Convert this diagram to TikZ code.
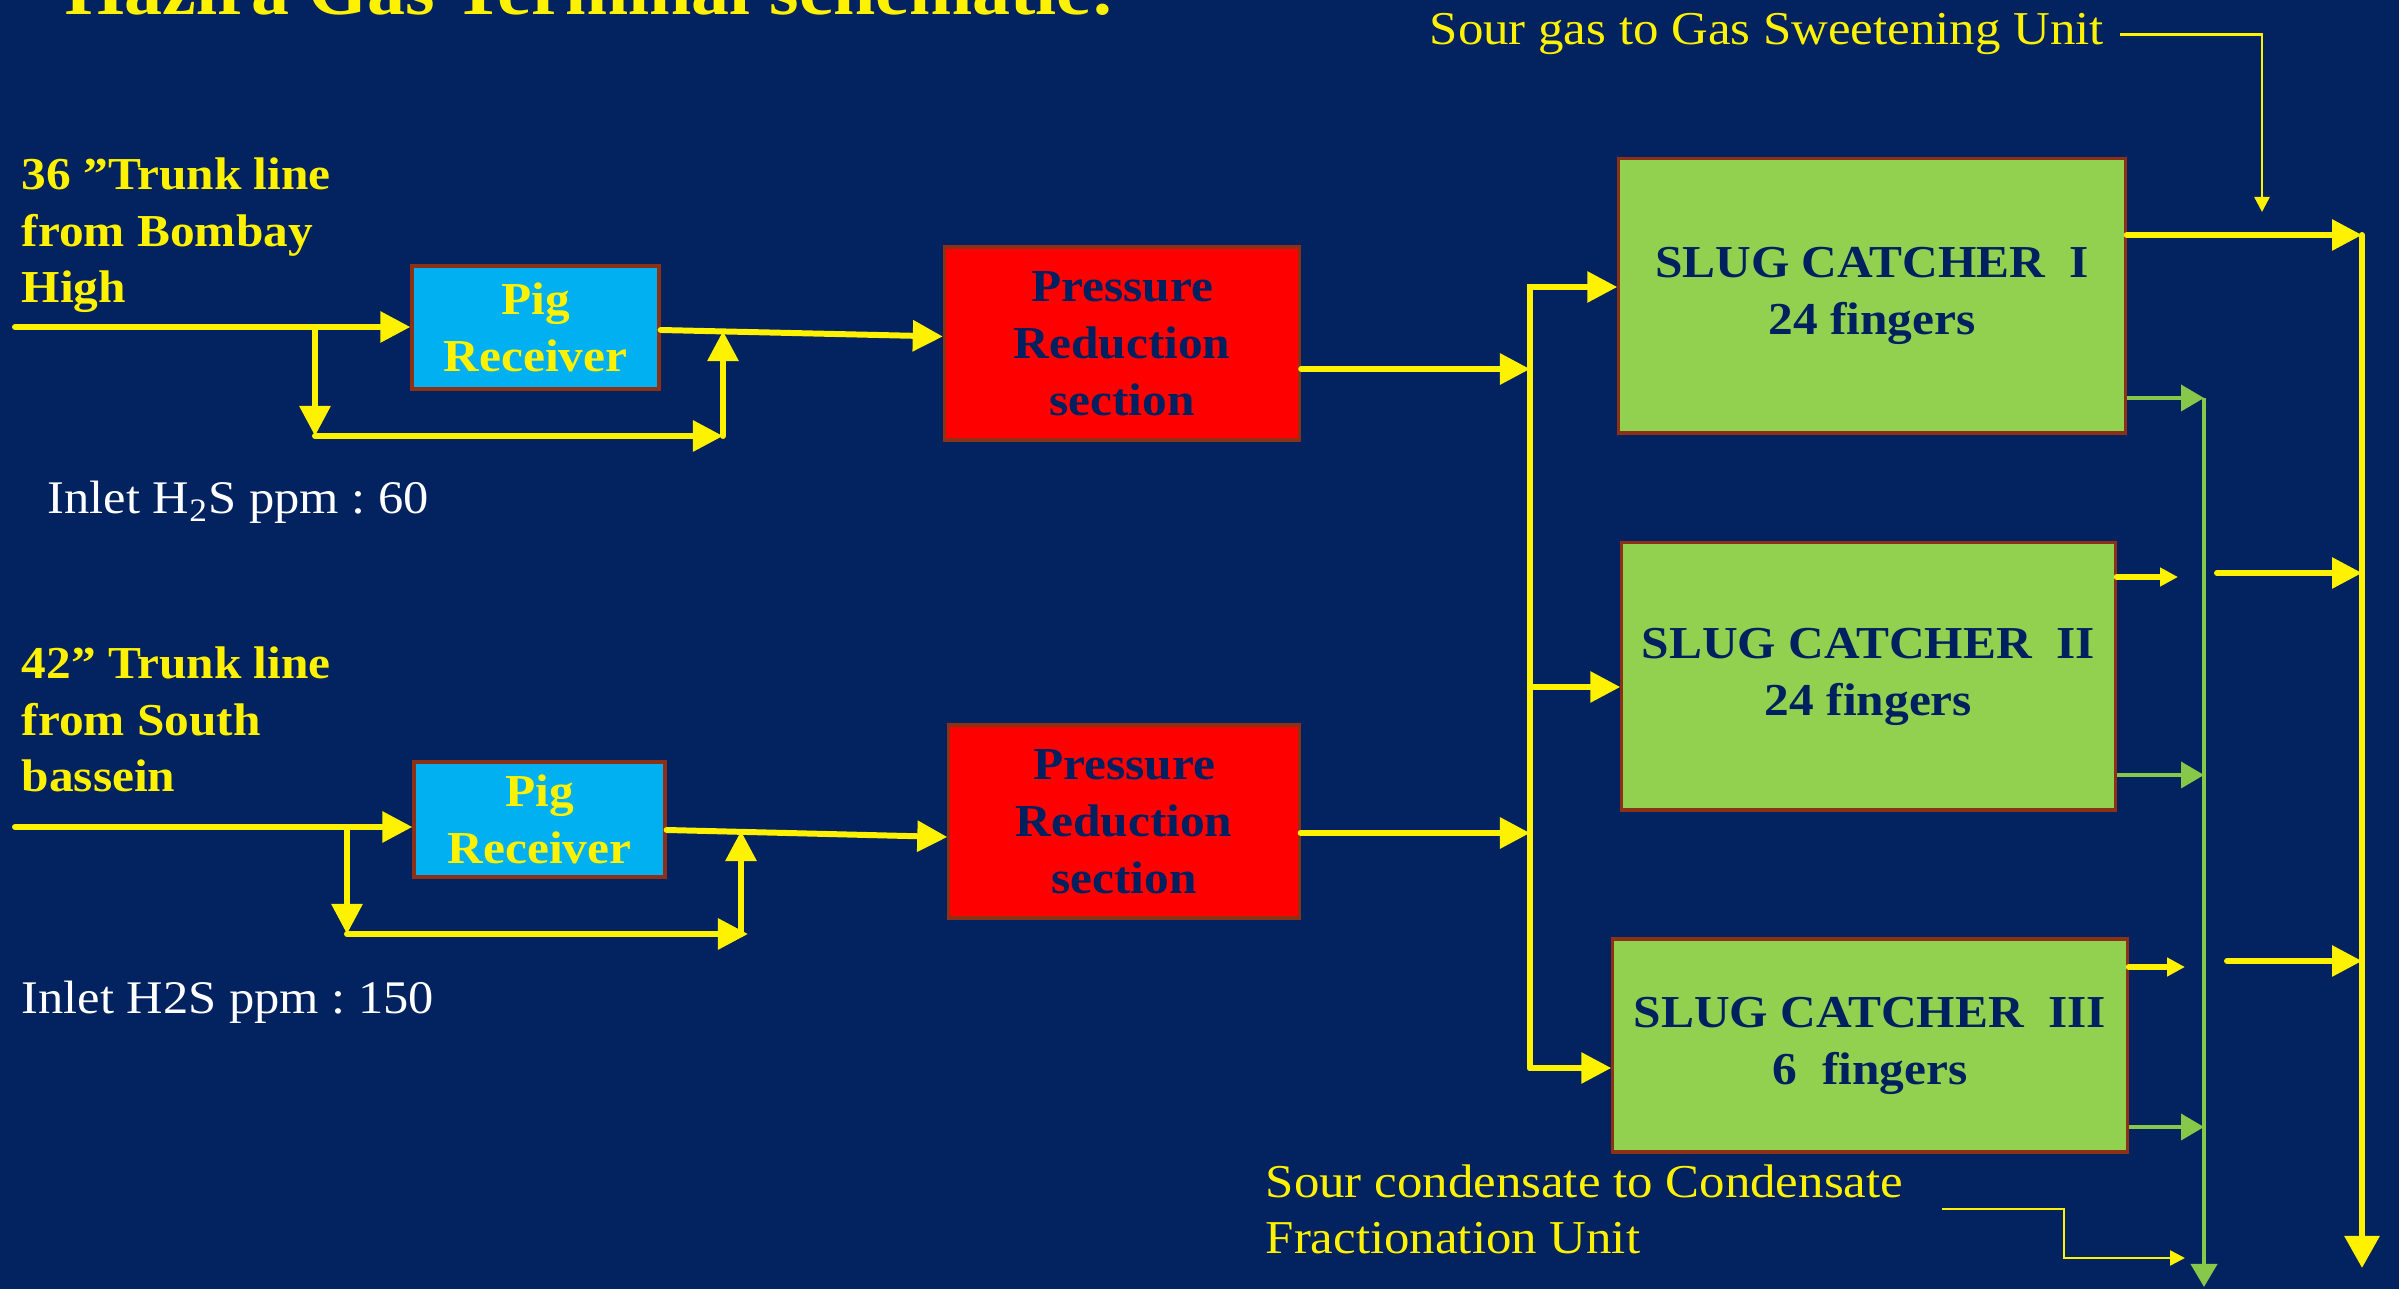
\documentclass[tikz,border=0pt]{standalone}
\usepackage{fontspec}
\setmainfont{Liberation Serif}[FakeStretch=1.08]
\usetikzlibrary{arrows.meta}
\definecolor{slidebg}{RGB}{2,34,96}
\definecolor{navytext}{RGB}{0,32,96}
\definecolor{pigblue}{RGB}{0,176,240}
\definecolor{boxedge}{RGB}{140,48,22}
\definecolor{sluggreen}{RGB}{146,208,80}
\definecolor{condgreen}{RGB}{135,200,75}
\frenchspacing

\begin{document}
\begin{tikzpicture}[x=0.01cm,y=-0.01cm,
  unitbox/.style={draw=boxedge,line width=0.9pt,inner sep=0pt,align=center,font=\fontsize{13}{16.2}\selectfont\bfseries},
  pigbox/.style={unitbox,fill=pigblue,text=yellow},
  prsbox/.style={unitbox,fill=red,text=navytext,minimum height=1.93cm},
  slugbox/.style={unitbox,fill=sluggreen,text=navytext},
  trunklabel/.style={anchor=base west,inner sep=0pt,align=left,text=yellow,font=\fontsize{13}{16.2}\selectfont\bfseries},
  ppmlabel/.style={anchor=base west,inner sep=0pt,text=white,font=\fontsize{13.3}{16.2}\selectfont},
  destlabel/.style={anchor=base west,inner sep=0pt,align=left,text=yellow,font=\fontsize{13.4}{16.2}\selectfont},
  pipe/.style={yellow,line width=1.7pt,line cap=round,-{Triangle[length=0.3cm,width=0.3cm]}},
  smallpipe/.style={pipe,-{Triangle[length=0.18cm,width=0.18cm]}},
  gaspipe/.style={pipe,-{Triangle[length=0.32cm,width=0.34cm]}},
  condpipe/.style={condgreen,line width=1.1pt,-{Triangle[length=0.23cm,width=0.26cm]}},
  pointer/.style={yellow,line width=0.7pt,-{Triangle[length=0.15cm,width=0.15cm]}}]
\useasboundingbox (0,0) rectangle (2399,1289);
\clip (0,0) rectangle (2399,1289);
\fill[slidebg] (0,0) rectangle (2399,1289);
\node[anchor=base west,inner sep=0pt,text=yellow,font=\fontsize{20}{24}\selectfont\bfseries] (title) at (65,15) {Hazira Gas Terminal schematic:};

% inlet texts (base = last line)
\node[trunklabel] (trunkA) at (21,303) {36 ”Trunk line\\from Bombay\\High};
\node[ppmlabel] (ppmA) at (47,514) {Inlet H\textsubscript{2}S ppm : 60};
\node[trunklabel] (trunkB) at (21,792) {42” Trunk line\\from South\\bassein};
\node[ppmlabel] (ppmB) at (21,1014) {Inlet H2S ppm : 150};

% units
\node[pigbox,minimum width=2.47cm,minimum height=1.23cm] (pigA) at (535.5,327.5) {Pig\\Receiver};
\node[pigbox,minimum width=2.51cm,minimum height=1.15cm] (pigB) at (539.5,819.5) {Pig\\Receiver};
\node[prsbox,minimum width=3.55cm] (prsA) at (1122,343.5) {Pressure\\Reduction\\section};
\node[prsbox,minimum width=3.5cm] (prsB) at (1124,821.5) {Pressure\\Reduction\\section};
\node[slugbox,minimum width=5.06cm,minimum height=2.74cm] (slugA) at (1872,296) {SLUG CATCHER\ \ I\\24 fingers};
\node[slugbox,minimum width=4.93cm,minimum height=2.67cm] (slugB) at (1868.5,676.5) {SLUG CATCHER\ \ II\\24 fingers};
\node[slugbox,minimum width=5.14cm,minimum height=2.13cm] (slugC) at (1870,1045.5) {SLUG CATCHER\ \ III\\6\ \ fingers};

% trunk lines and pig bypass
\coordinate (inA) at (15,327);
\coordinate (inB) at (15,827);
\coordinate (byA1) at (315,327);
\coordinate (byA2) at (315,436);
\coordinate (byA3) at (723,436);
\coordinate (byA4) at (723,331);
\coordinate (byB1) at (347,827);
\coordinate (byB2) at (347,934);
\coordinate (byB3) at (748,934);
\coordinate (byB4) at (741,934);
\coordinate (byB5) at (741,831);
\draw[pipe] (inA) -- (inA -| pigA.west);
\draw[pipe] (byA1) -- (byA2);
\draw[pipe] (byA2) -- (byA3);
\draw[pipe] (byA3) -- (byA4);
\draw[pipe] ([yshift=-0.025cm]pigA.east) -- ([yshift=0.07cm]prsA.west);
\draw[pipe] (inB) -- (inB -| pigB.west);
\draw[pipe] (byB1) -- (byB2);
\draw[pipe] (byB2) -- (byB3);
\draw[pipe] (byB4) -- (byB5);
\draw[pipe] ([yshift=-0.105cm]pigB.east) -- ([yshift=-0.155cm]prsB.west);

% header to slug catchers
\coordinate (busA) at (1530,287);
\coordinate (busB) at (1530,687);
\coordinate (busC) at (1530,1068);
\draw[pipe] ([yshift=-0.255cm]prsA.east) coordinate (prsAout) -- (prsAout -| busA);
\draw[pipe] ([yshift=-0.115cm]prsB.east) coordinate (prsBout) -- (prsBout -| busA);
\draw[pipe] (busC) -- (busA) -- (busA -| slugA.west);
\draw[pipe] (busB) -- (busB -| slugB.west);
\draw[pipe] (busC) -- (busC -| slugC.west);

% sour gas header
\coordinate (gasA) at (2362,235);
\coordinate (gasEnd) at (2362,1268);
\coordinate (jumpB) at (2178,577);
\coordinate (restB) at (2217,573);
\coordinate (jumpC) at (2185,967);
\coordinate (restC) at (2227,961);
\draw[pipe] (gasA -| slugA.east) -- (gasA);
\draw[gaspipe] (gasA) -- (gasEnd);
\draw[smallpipe] (jumpB -| slugB.east) -- (jumpB);
\draw[pipe] (restB) -- (restB -| gasA);
\draw[smallpipe] (jumpC -| slugC.east) -- (jumpC);
\draw[pipe] (restC) -- (restC -| gasA);

% sour condensate header
\coordinate (condA) at (2204,398);
\coordinate (condB) at (2204,775);
\coordinate (condC) at (2204,1127);
\coordinate (condEnd) at (2204,1287);
\draw[condpipe] (condA -| slugA.east) -- (condA);
\draw[condpipe] (condB -| slugB.east) -- (condB);
\draw[condpipe] (condC -| slugC.east) -- (condC);
\draw[condpipe] (condA) -- (condEnd);

% destinations
\node[destlabel] (sourgas) at (1429,45) {Sour gas to Gas Sweetening Unit};
\coordinate (sourgasTip) at (2262,212);
\draw[pointer] ([xshift=0.15cm]sourgas.east) -| (sourgasTip);
\node[destlabel] (sourcond) at (1265,1254) {Sour condensate to Condensate\\Fractionation Unit};
\coordinate (condStart) at (1942,1209);
\coordinate (condBend) at (2064,1209);
\coordinate (condTip) at (2185,1258);
\draw[pointer] (condStart) -- (condBend) |- (condTip);
\end{tikzpicture}
\end{document}
